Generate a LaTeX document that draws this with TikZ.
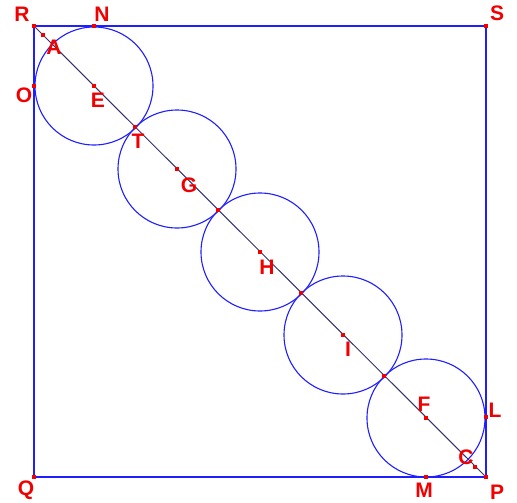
\documentclass[tikz,border=0pt]{standalone}
\usepackage{fontspec}
\setmainfont{Liberation Sans}
\definecolor{sqblue}{RGB}{30,30,255}
\definecolor{labred}{RGB}{240,0,0}
\definecolor{diag}{RGB}{50,50,110}
\begin{document}
\begin{tikzpicture}[x=1pt,y=-1pt,
  lab/.style={text=labred,font=\bfseries\fontsize{21}{21}\selectfont,inner sep=0pt},
  dot/.style={rectangle,fill=labred,minimum size=3.5pt,inner sep=0pt},
  side/.style={draw=sqblue,line width=1.4pt},
  circ/.style={draw=sqblue,line width=1.1pt},
  diagline/.style={draw=diag,line width=1pt}]
\useasboundingbox (0,0) rectangle (517,503);
% corners
\coordinate (R) at (34,26);
\coordinate (S) at (486,26);
\coordinate (Q) at (34,477);
\coordinate (P) at (486,477);
% centres
\coordinate (E) at (94,86);
\coordinate (G) at (177,169);
\coordinate (H) at (260,252);
\coordinate (I) at (343,335);
\coordinate (F) at (426,418);
% square and diagonal
\draw[side] (R) -- (S) -- (P) -- (Q) -- cycle;
% circles
\foreach \c in {E,G,H,I,F} \draw[circ] (\c) circle[radius=59];
\draw[diagline] (R) -- (P);
% points
\node[dot] (pR) at (R) {};
\node[dot] (pS) at (S) {};
\node[dot] (pQ) at (Q) {};
\node[dot] (pP) at (P) {};
\node[dot] (pN) at (94,26) {};
\node[dot] (pO) at (34,86) {};
\node[dot] (pA) at (43,35) {};
\node[dot] (pE) at (E) {};
\node[dot] (pT) at (135,127) {};
\node[dot] (pG) at (G) {};
\node[dot] (pX1) at (218,210) {};
\node[dot] (pH) at (H) {};
\node[dot] (pX2) at (301,293) {};
\node[dot] (pI) at (I) {};
\node[dot] (pX3) at (384,376) {};
\node[dot] (pF) at (F) {};
\node[dot] (pL) at (486,417) {};
\node[dot] (pM) at (426,477) {};
\node[dot] (pC) at (475,467) {};
% labels
\node[lab] (lR) at (22,14) {R};
\node[lab] (lN) at (102,14) {N};
\node[lab] (lS) at (497,13) {S};
\node[lab] (lO) at (24,95) {O};
\node[lab] (lA) at (54,47) {A};
\node[lab] (lE) at (98,100) {E};
\node[lab] (lT) at (138,141) {T};
\node[lab] (lG) at (189,185) {G};
\node[lab] (lH) at (267,267) {H};
\node[lab] (lI) at (348,349) {I};
\node[lab] (lF) at (424,404) {F};
\node[lab] (lL) at (495,410) {L};
\node[lab] (lC) at (466,457) {C};
\node[lab] (lM) at (424,490) {M};
\node[lab] (lP) at (497,492) {P};
\node[lab] (lQ) at (26,490) {Q};
\end{tikzpicture}
\end{document}
